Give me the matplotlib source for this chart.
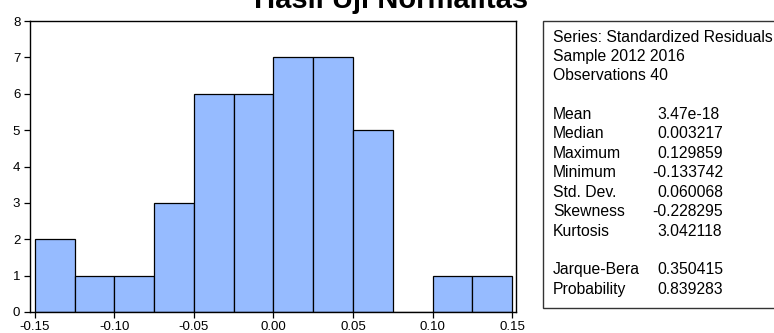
import matplotlib
matplotlib.use("Agg")
import matplotlib.pyplot as plt
from matplotlib.patches import Rectangle
import numpy as np

# Data
bin_edges = [-0.15, -0.125, -0.10, -0.075, -0.05, -0.025, 0.0, 0.025, 0.05, 0.075, 0.10, 0.125, 0.15]
counts = [2, 1, 1, 3, 6, 6, 7, 7, 5, 0, 1, 1]
xticks = [-0.15, -0.10, -0.05, 0.00, 0.05, 0.10, 0.15]
yticks = [0, 1, 2, 3, 4, 5, 6, 7, 8]
title = "Hasil Uji Normalitas"
header_lines = ["Series: Standardized Residuals", "Sample 2012 2016", "Observations 40"]
stat_names = ["Mean", "Median", "Maximum", "Minimum", "Std. Dev.", "Skewness", "Kurtosis"]
stat_values = ["3.47e-18", "0.003217", "0.129859", "-0.133742", "0.060068", "-0.228295", "3.042118"]
test_names = ["Jarque-Bera", "Probability"]
test_values = ["0.350415", "0.839283"]

FONT = "Liberation Sans"
plt.rcParams['font.family'] = [FONT, 'DejaVu Sans']

W, H = 774, 333
fig = plt.figure(figsize=(W / 100, H / 100), dpi=100)

def fx(px):
    return px / W

def fy(py):
    return 1 - py / H

ax_left, ax_right, ax_top, ax_bottom = 30, 516, 21, 312
ax = fig.add_axes([fx(ax_left), fy(ax_bottom), fx(ax_right - ax_left), (ax_bottom - ax_top) / H])

lefts = np.array(bin_edges[:-1])
widths = np.diff(bin_edges)
ax.bar(lefts, counts, width=widths, align='edge', color='#96BBFF',
       edgecolor='black', linewidth=0.9)

ax.set_xlim(-0.1531, 0.1525)
ax.set_ylim(0, 8)
ax.set_xticks(xticks)
ax.set_xticklabels([f"{t:.2f}" for t in xticks])
ax.set_yticks(yticks)
ax.tick_params(axis='both', direction='out', length=4, width=0.9, labelsize=9.5, colors='black')
ax.tick_params(axis='y', pad=3)
ax.tick_params(axis='x', pad=2.5)
for s in ax.spines.values():
    s.set_linewidth(1.0)
    s.set_color('black')

fig.text(fx(391.5), fy(8), title, ha='center', va='baseline',
         fontsize=21, fontweight='bold', family=FONT)

# Stats box
box = Rectangle((fx(543), fy(308)), fx(800 - 543), (308 - 21) / H,
                transform=fig.transFigure, facecolor='white', edgecolor='#333333',
                linewidth=1.0, clip_on=False)
fig.patches.append(box)

fs = 11.3
x_name = 553
x_val = 657
x_neg = 652
y0 = 37
dy = 19.4
y = y0
for line in header_lines:
    fig.text(fx(x_name), fy(y), line, ha='left', va='center', fontsize=fs)
    y += dy
y += dy

def put_value(v, yy):
    xv = x_neg if v.startswith('-') else x_val
    fig.text(fx(xv), fy(yy), v, ha='left', va='center', fontsize=fs)

for n, v in zip(stat_names, stat_values):
    fig.text(fx(x_name), fy(y), n, ha='left', va='center', fontsize=fs)
    put_value(v, y)
    y += dy
y += dy
for n, v in zip(test_names, test_values):
    fig.text(fx(x_name), fy(y), n, ha='left', va='center', fontsize=fs)
    put_value(v, y)
    y += dy

fig.savefig("out.png", dpi=100)
